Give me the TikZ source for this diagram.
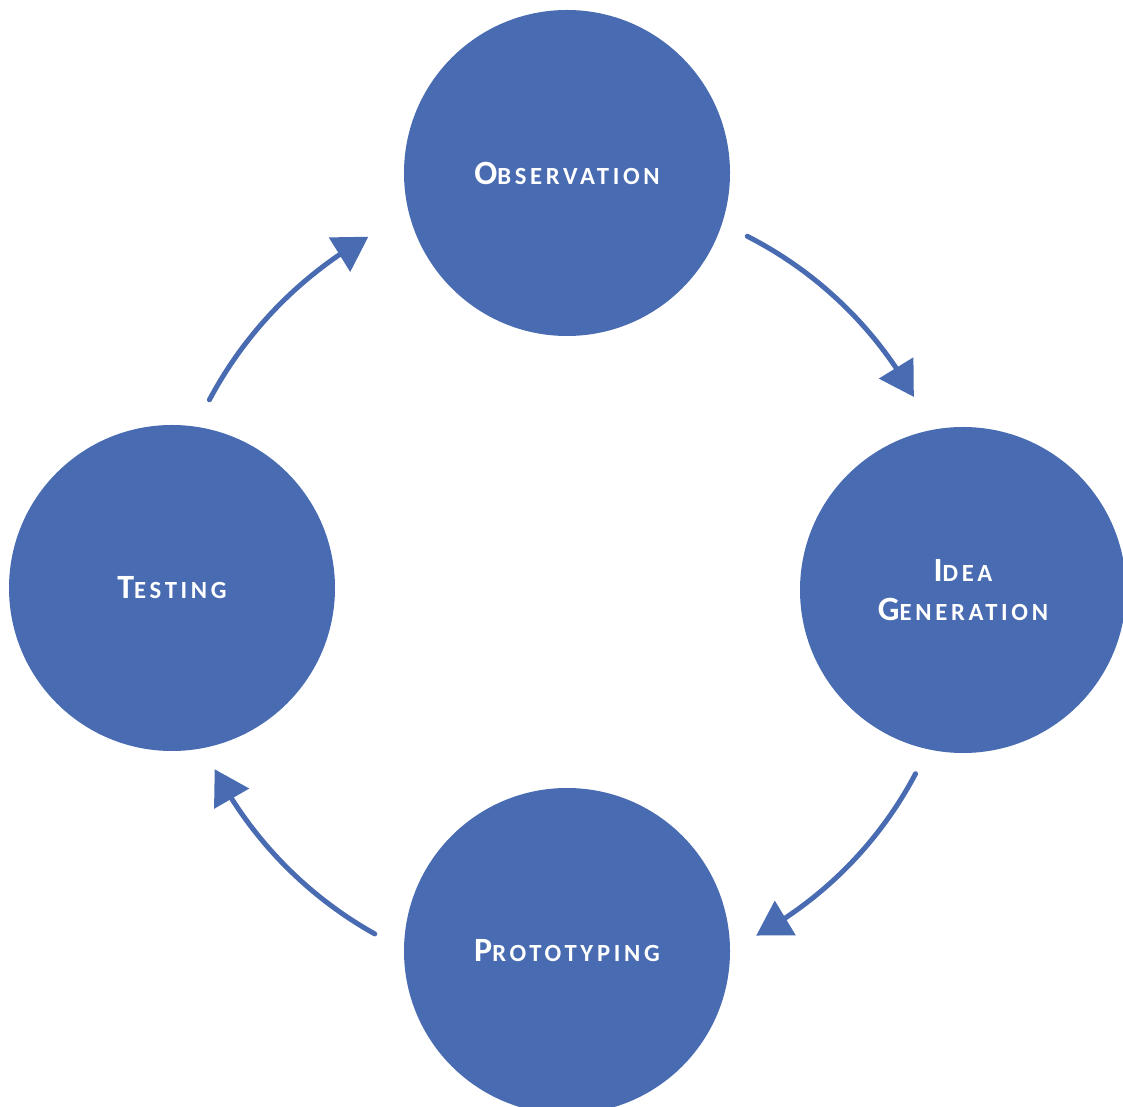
\documentclass[tikz,border=0pt]{standalone}
\usepackage{fontspec}
\setmainfont{Carlito}
\newfontfamily\lblfont[LetterSpace=15]{Carlito}
\usetikzlibrary{arrows.meta,bending,calc}
\definecolor{cblue}{RGB}{72,107,177}
\newcommand\smc[2]{{\fontsize{25.5}{30}\selectfont #1}{\fontsize{18.5}{22}\selectfont #2}}
\tikzset{
  stage/.style={circle, fill=cblue, minimum size=244.5pt, inner sep=0pt,
    text=white, font=\lblfont\bfseries, align=center},
  arr/.style={draw=cblue, line width=3.75pt, line cap=round,
    -{Triangle[length=25.5pt, width=29.5pt, flex]}}
}
\begin{document}
\begin{tikzpicture}[x=0.75pt, y=0.75pt]
\useasboundingbox (0,0) rectangle (1123,1106);
\coordinate (c) at (567,516);
\node[stage] (obs) at (567,933) {\smc{O}{BSERVATION}};
\node[stage] (idea) at (963,516) {\smc{I}{DEA}\\[11pt]\smc{G}{ENERATION}};
\node[stage] (proto) at (567,155) {\smc{P}{ROTOTYPING}};
\node[stage] (test) at (172,518) {\smc{T}{ESTING}};
\coordinate (s1) at ($(c)+(63:397)$);
\coordinate (s2) at ($(c)+(-27.8:394)$);
\coordinate (s3) at ($(c)+(240.8:394)$);
\coordinate (s4) at ($(c)+(152:405)$);
\draw[arr] (s1) arc[start angle=63, end angle=29.1, radius=397];
\draw[arr] (s2) arc[start angle=-27.8, end angle=-61.3, radius=394];
\draw[arr] (s3) arc[start angle=240.8, end angle=207.6, radius=402];
\draw[arr] (s4) arc[start angle=152, end angle=119.5, radius=407];
\end{tikzpicture}
\end{document}
